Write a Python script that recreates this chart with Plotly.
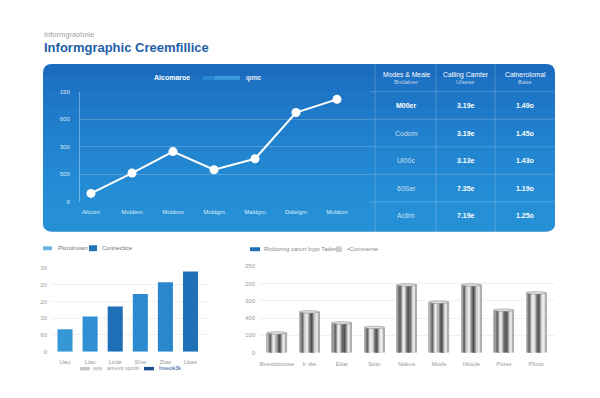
import plotly.graph_objects as go

W, H = 600, 398

# ---------------- data ----------------
line_categories = ["Alcoim", "Moldem", "Moldom", "Moldgm", "Maldgm", "Ddielgm", "Moldom"]
line_values = [15, 52, 91, 58, 78, 162, 186]
line_tickvals = [0, 50, 100, 150, 200]
line_ticktext = ["0", "500", "300", "600", "150"]

table_header = [["Modes & Meale", "Bndalner"], ["Calling Camter", "Ulsese"], ["Catnerolomal", "Base"]]
table_col1 = ["M00er", "Codom", "Ul00c", "60Ser", "Actim"]
table_col2 = ["3.19e", "3.19e", "3.13e", "7.35e", "7.19e"]
table_col3 = ["1.49o", "1.45o", "1.43o", "1.19o", "1.25o"]

bar_categories = ["Uau", "Liav", "Lirde", "Slne", "Ztae", "Lkae"]
bar_values = [13.4, 21, 26.9, 34.5, 41.4, 47.8]
bar_colors = ["#3597d6", "#2f8fd2", "#1f6fb6", "#2c8ad0", "#2a86cd", "#1f70b7"]
bar_tickvals = [0, 10, 20, 30, 40, 50]
bar_ticktext = ["0", "60", "30", "20", "20", "30"]

cyl_categories = ["Bnestidotuse", "Ir dte", "Eltar", "Soto", "Ndeos", "Mode", "Ntoole", "Potse", "Pltoto"]
cyl_values = [57, 118, 86, 73, 196, 146, 196, 123, 173]
cyl_tickvals = [0, 50, 100, 150, 200, 250]
cyl_ticktext = ["0", "100", "400", "300", "200", "250"]

FONT = "Liberation Sans, Arial, sans-serif"


def fx(px):
    return px / W


def fy(py):
    return 1 - py / H


def P(px, py):
    return f"{fx(px):.5f},{fy(py):.5f}"


def text(px, py, s, size, color, xanchor="center", bold=False):
    return dict(x=fx(px), y=fy(py), text=f"<b>{s}</b>" if bold else s, showarrow=False,
                xref="paper", yref="paper", xanchor=xanchor, yanchor="middle",
                font=dict(family=FONT, size=size, color=color))


fig = go.Figure()

# ---------------- top line chart ----------------
fig.add_trace(go.Scatter(
    x=list(range(len(line_categories))), y=line_values,
    mode="lines+markers",
    line=dict(color="white", width=2),
    marker=dict(color="white", size=9),
    xaxis="x", yaxis="y", showlegend=False, hoverinfo="skip"))

# ---------------- bottom-left bar chart ----------------
fig.add_trace(go.Bar(
    x=list(range(len(bar_categories))), y=bar_values,
    marker=dict(color=bar_colors, line=dict(width=0)),
    width=0.6, xaxis="x2", yaxis="y2", showlegend=False, hoverinfo="skip"))

# ---------------- bottom-right metallic cylinders ----------------
strip_shades = ["#b8b8b8", "#9c9c9c", "#7a7a7a", "#6a6a6a", "#9a9a9a", "#d0d0d0", "#eeeeee",
                "#e0e0e0", "#b4b4b4", "#8a8a8a", "#646464", "#555555", "#6e6e6e", "#9e9e9e",
                "#cfcfcf", "#ececec", "#dcdcdc", "#b0b0b0"]
N = len(strip_shades)
cyl_w = 0.62
for k, shade in enumerate(strip_shades):
    fig.add_trace(go.Bar(
        x=list(range(len(cyl_categories))), y=cyl_values,
        width=cyl_w / N * 1.05, offset=-cyl_w / 2 + k * cyl_w / N,
        marker=dict(color=shade, line=dict(width=0)),
        xaxis="x3", yaxis="y3", showlegend=False, hoverinfo="skip"))

shapes = []
annotations = []

# blue panel (rounded) with vertical gradient built from stacked translucent layers
x0, y0, x1, y1, r = 43, 62, 555, 232, 9
path = (f"M {P(x0+r,y0)} L {P(x1-r,y0)} Q {P(x1,y0)} {P(x1,y0+r)} L {P(x1,y1-r)} Q {P(x1,y1)} {P(x1-r,y1)} "
        f"L {P(x0+r,y1)} Q {P(x0,y1)} {P(x0,y1-r)} L {P(x0,y0+r)} Q {P(x0,y0)} {P(x0+r,y0)} Z")
shapes.append(dict(type="path", xref="paper", yref="paper", layer="below",
                   path=path, fillcolor="#1b6cbf", line=dict(width=0)))
for ys in [75, 90, 105, 120, 135, 150, 165, 180, 195, 210]:
    p2 = (f"M {P(x0,ys)} L {P(x1,ys)} L {P(x1,y1-r)} Q {P(x1,y1)} {P(x1-r,y1)} "
          f"L {P(x0+r,y1)} Q {P(x0,y1)} {P(x0,y1-r)} Z")
    shapes.append(dict(type="path", xref="paper", yref="paper", layer="below",
                       path=p2, fillcolor="rgba(48,160,224,0.11)", line=dict(width=0)))

# table lines
grid_c = "rgba(255,255,255,0.2)"
for vx in [375, 436, 495]:
    shapes.append(dict(type="line", xref="paper", yref="paper",
                       x0=fx(vx), x1=fx(vx), y0=fy(62), y1=fy(232), line=dict(color=grid_c, width=1)))
for hy in [90, 118, 146, 174, 202]:
    shapes.append(dict(type="line", xref="paper", yref="paper",
                       x0=fx(370), x1=fx(555), y0=fy(hy), y1=fy(hy), line=dict(color=grid_c, width=1)))

col_centers = [406, 466, 525]
for cx, (l1, l2) in zip(col_centers, table_header):
    annotations.append(text(cx, 73, l1, 6.8, "white"))
    annotations.append(text(cx, 80.7, l2, 6, "rgba(255,255,255,0.7)"))
row_centers = [104, 132, 160, 188, 216]
for i, ry in enumerate(row_centers):
    annotations.append(text(col_centers[0], ry, table_col1[i], 7,
                            "white" if i == 0 else "rgba(255,255,255,0.75)", bold=(i == 0)))
    annotations.append(text(col_centers[1], ry, table_col2[i], 7, "white", bold=True))
    annotations.append(text(col_centers[2], ry, table_col3[i], 7, "white", bold=True))

# line chart legend
annotations.append(text(172, 76, "Alcomaroe", 7, "white", bold=True))
shapes.append(dict(type="rect", xref="paper", yref="paper", x0=fx(203), x1=fx(215), y0=fy(78), y1=fy(74),
                   fillcolor="#2c86d0", line=dict(width=0)))
shapes.append(dict(type="rect", xref="paper", yref="paper", x0=fx(215), x1=fx(240), y0=fy(78), y1=fy(74),
                   fillcolor="#3a9be0", line=dict(width=0)))
annotations.append(text(244, 76, "ıpmc", 6.5, "rgba(255,255,255,0.9)", xanchor="left", bold=True))

# titles
annotations.append(text(42, 32, "Informgraohnle", 7.5, "#a0a0a0", xanchor="left"))
annotations.append(text(42, 45.5, "Informgraphic Creemfillice", 13, "#1f5ea8", xanchor="left", bold=True))

# bottom-left legends
shapes.append(dict(type="rect", xref="paper", yref="paper", x0=fx(43), x1=fx(52), y0=fy(251), y1=fy(247),
                   fillcolor="#6ab4e4", line=dict(width=0)))
annotations.append(text(56, 249, "Plorolnown", 6, "#707070", xanchor="left"))
shapes.append(dict(type="rect", xref="paper", yref="paper", x0=fx(89), x1=fx(97), y0=fy(252), y1=fy(246),
                   fillcolor="#1f74b8", line=dict(width=0)))
annotations.append(text(100, 249, "Connectice", 6, "#707070", xanchor="left"))

shapes.append(dict(type="rect", xref="paper", yref="paper", x0=fx(80), x1=fx(90), y0=fy(373), y1=fy(369.5),
                   fillcolor="#c8c8c8", line=dict(width=0)))
shapes.append(dict(type="rect", xref="paper", yref="paper", x0=fx(93), x1=fx(102), y0=fy(373), y1=fy(369.5),
                   fillcolor="#d8d8d8", line=dict(width=0)))
annotations.append(text(105, 371, "ameiot spoiln", 5.5, "#9a9a9a", xanchor="left"))
shapes.append(dict(type="rect", xref="paper", yref="paper", x0=fx(144), x1=fx(154), y0=fy(373), y1=fy(369.5),
                   fillcolor="#1d4f8f", line=dict(width=0)))
annotations.append(text(157, 371, "Inveok3k", 5.5, "#1d4f8f", xanchor="left"))

# bottom-right legend
shapes.append(dict(type="rect", xref="paper", yref="paper", x0=fx(250), x1=fx(260), y0=fy(252), y1=fy(248),
                   fillcolor="#1f6fb5", line=dict(width=0)))
annotations.append(text(262, 250, "Ricboring carorr bypt Tader", 6, "#8a8a8a", xanchor="left"))
shapes.append(dict(type="rect", xref="paper", yref="paper", x0=fx(336), x1=fx(342), y0=fy(253), y1=fy(247),
                   fillcolor="#d0d0d0", line=dict(width=0)))
annotations.append(text(345, 250, "▪Commenie", 6, "#8a8a8a", xanchor="left"))

# cylinder top caps
for i, v in enumerate(cyl_values):
    shapes.append(dict(type="circle", xref="x3", yref="y3",
                       x0=i - cyl_w / 2, x1=i + cyl_w / 2, y0=v - 3.5, y1=v + 3.5,
                       fillcolor="#e4e4e4", line=dict(color="#8a8a8a", width=0.6)))

tick_font_w = dict(family=FONT, size=6, color="rgba(255,255,255,0.85)")
tick_font_g = dict(family=FONT, size=6, color="#9a9a9a")

fig.update_layout(
    width=W, height=H,
    margin=dict(l=0, r=0, t=0, b=0),
    paper_bgcolor="white", plot_bgcolor="rgba(0,0,0,0)",
    barmode="overlay",
    shapes=shapes, annotations=annotations,
    xaxis=dict(domain=[fx(80), fx(370)], range=[-0.268, 6.805],
               tickvals=list(range(len(line_categories))), ticktext=line_categories,
               tickfont=tick_font_w, showgrid=False, zeroline=False, showline=False, ticks="",
               ticklabelstandoff=5),
    yaxis=dict(domain=[fy(201.7), fy(90)], range=[0, 200], anchor="x",
               tickvals=line_tickvals, ticktext=line_ticktext, tickfont=tick_font_w,
               showgrid=True, gridcolor="rgba(255,255,255,0.2)", zeroline=False,
               showline=True, linecolor="rgba(255,255,255,0.35)", ticks="", ticklabelstandoff=8),
    xaxis2=dict(domain=[fx(52), fx(207)], range=[-0.518, 5.657], anchor="y2",
                tickvals=list(range(len(bar_categories))), ticktext=bar_categories,
                tickfont=tick_font_g, showgrid=False, zeroline=False, showline=False, ticks="",
                ticklabelstandoff=5),
    yaxis2=dict(domain=[fy(354), fy(269)], range=[0, 50], anchor="x2",
                tickvals=bar_tickvals, ticktext=bar_ticktext, tickfont=tick_font_g,
                showgrid=True, gridcolor="#f0f0f0", zeroline=False, ticks="", ticklabelstandoff=4),
    xaxis3=dict(domain=[fx(260), fx(555)], range=[-0.525, 8.58], anchor="y3",
                tickvals=list(range(len(cyl_categories))), ticktext=cyl_categories,
                tickfont=tick_font_g, showgrid=False, zeroline=False, showline=False, ticks="",
                ticklabelstandoff=6),
    yaxis3=dict(domain=[fy(355), fy(267.3)], range=[0, 250], anchor="x3",
                tickvals=cyl_tickvals, ticktext=cyl_ticktext, tickfont=tick_font_g,
                showgrid=True, gridcolor="#f0f0f0", zeroline=False, ticks="", ticklabelstandoff=4),
)

fig.write_html("out.html", config={"displayModeBar": False},
               post_script="document.body.style.margin='0px';")
